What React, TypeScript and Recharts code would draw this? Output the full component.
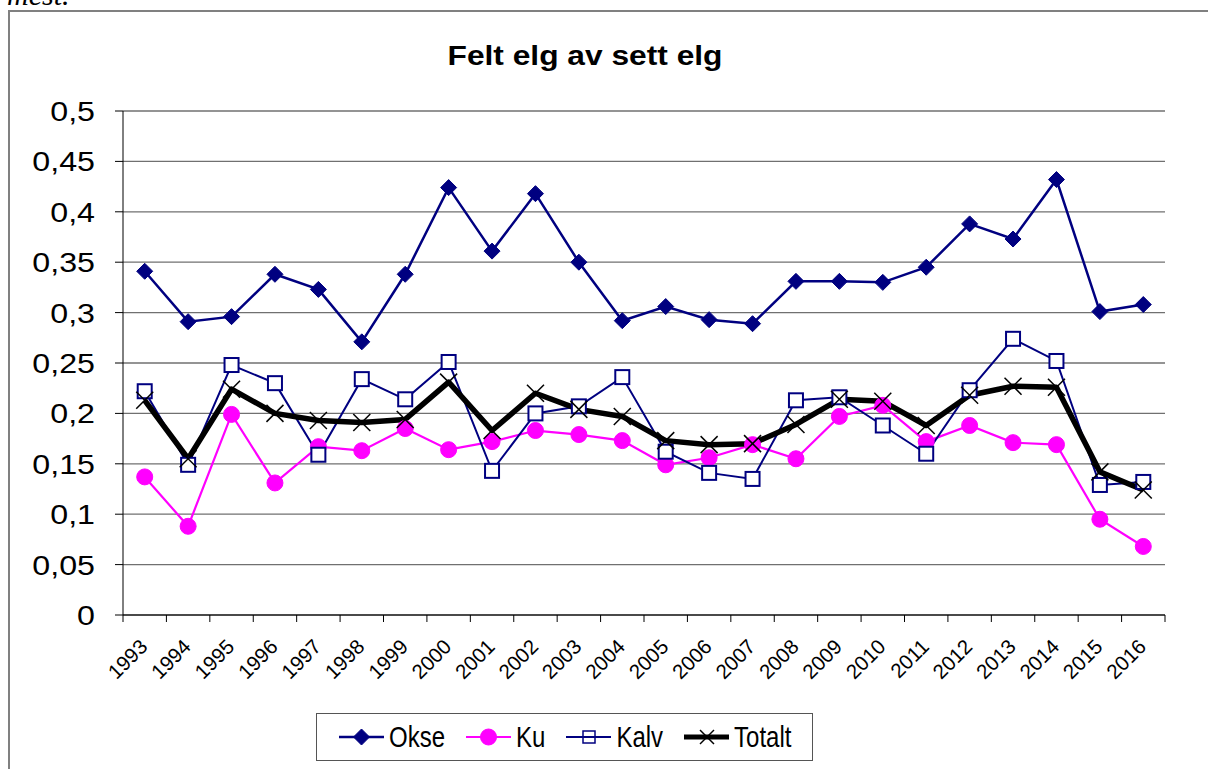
import { LineChart, Line, XAxis, YAxis, CartesianGrid } from "recharts";

const years = [
  "1993", "1994", "1995", "1996", "1997", "1998", "1999", "2000",
  "2001", "2002", "2003", "2004", "2005", "2006", "2007", "2008",
  "2009", "2010", "2011", "2012", "2013", "2014", "2015", "2016",
];
const okse = [
  0.341, 0.291, 0.296, 0.338, 0.323, 0.271, 0.338, 0.424, 0.361, 0.418, 0.35, 0.292,
  0.306, 0.293, 0.289, 0.331, 0.331, 0.33, 0.345, 0.388, 0.373, 0.432, 0.301, 0.308,
];
const ku = [
  0.137, 0.088, 0.199, 0.131, 0.167, 0.163, 0.185, 0.164, 0.172, 0.183, 0.179, 0.173,
  0.149, 0.156, 0.169, 0.155, 0.197, 0.208, 0.172, 0.188, 0.171, 0.169, 0.095, 0.068,
];
const kalv = [
  0.222, 0.149, 0.248, 0.23, 0.159, 0.234, 0.214, 0.251, 0.143, 0.2, 0.207, 0.236,
  0.162, 0.141, 0.135, 0.213, 0.216, 0.188, 0.16, 0.223, 0.274, 0.252, 0.129, 0.132,
];
const totalt = [
  0.213, 0.155, 0.224, 0.2, 0.193, 0.191, 0.194, 0.231, 0.183, 0.22, 0.204, 0.197,
  0.173, 0.169, 0.17, 0.189, 0.214, 0.212, 0.188, 0.218, 0.227, 0.226, 0.142, 0.124,
];
const yTicks = [0, 0.05, 0.1, 0.15, 0.2, 0.25, 0.3, 0.35, 0.4, 0.45, 0.5];
const title = "Felt elg av sett elg";
const seriesNames = ["Okse", "Ku", "Kalv", "Totalt"];

const data = years.map((year, i) => ({
  year,
  Okse: okse[i],
  Ku: ku[i],
  Kalv: kalv[i],
  Totalt: totalt[i],
}));

const FONT = "'Liberation Sans', Arial, sans-serif";
const NAVY = "#000080";
const PINK = "#FF00FF";
const PLOT_W = 1042;
const STEP = PLOT_W / years.length;

function Marker({ kind, cx, cy }: { kind: string; cx: number; cy: number }) {
  if (kind === "Okse") {
    const s = 8;
    return (
      <polygon
        points={`${cx},${cy - s} ${cx + s},${cy} ${cx},${cy + s} ${cx - s},${cy}`}
        fill={NAVY}
        stroke={NAVY}
      />
    );
  }
  if (kind === "Ku") return <circle cx={cx} cy={cy} r={8} fill={PINK} stroke={PINK} />;
  if (kind === "Kalv")
    return <rect x={cx - 7} y={cy - 7} width={14} height={14} fill="#fff" stroke={NAVY} strokeWidth={2} />;
  const s = 8.5;
  return (
    <g stroke="#000" strokeWidth={1.5}>
      <line x1={cx - s} y1={cy - s} x2={cx + s} y2={cy + s} />
      <line x1={cx - s} y1={cy + s} x2={cx + s} y2={cy - s} />
    </g>
  );
}

const dotFor = (kind: string) => (props: any) => {
  const { cx, cy, index } = props;
  if (cx == null || cy == null) return <g key={index} />;
  return (
    <g key={`${kind}-${index}`}>
      <Marker kind={kind} cx={cx} cy={cy} />
    </g>
  );
};

function YearTick(props: any) {
  const { x, y, payload, index } = props;
  const tx = x + 4;
  const ty = y + 33;
  return (
    <g>
      <line x1={x - STEP / 2} x2={x - STEP / 2} y1={y} y2={y + 7} stroke="#000" />
      {index === years.length - 1 && (
        <line x1={x + STEP / 2} x2={x + STEP / 2} y1={y} y2={y + 7} stroke="#000" />
      )}
      <text
        x={tx}
        y={ty}
        textAnchor="end"
        transform={`rotate(-45, ${tx}, ${ty})`}
        fontSize={20.5}
        fontFamily={FONT}
        fill="#000"
      >
        {payload.value}
      </text>
    </g>
  );
}

function ValueTick(props: any) {
  const { x, y, payload } = props;
  return (
    <text
      x={x}
      y={y}
      dy="0.355em"
      textAnchor="end"
      fontSize={28}
      fontFamily={FONT}
      fill="#000"
      transform={`translate(${x},0) scale(1.15,1) translate(${-x},0)`}
    >
      {String(payload.value).replace(".", ",")}
    </text>
  );
}

function LegendIcon({ kind }: { kind: string }) {
  const stroke = kind === "Ku" ? PINK : kind === "Totalt" ? "#000" : NAVY;
  const width = kind === "Totalt" ? 5 : kind === "Okse" ? 2.5 : 2;
  return (
    <svg width={45} height={20} style={{ display: "block" }}>
      <line x1={0} x2={45} y1={10} y2={10} stroke={stroke} strokeWidth={width} />
      {kind === "Kalv" ? (
        <rect x={17} y={4} width={12} height={12} fill="none" stroke={NAVY} strokeWidth={1.5} />
      ) : kind === "Totalt" ? (
        <g stroke="#000" strokeWidth={1.5}>
          <line x1={16} y1={3} x2={30} y2={17} />
          <line x1={16} y1={17} x2={30} y2={3} />
        </g>
      ) : (
        <Marker kind={kind} cx={22.5} cy={10} />
      )}
    </svg>
  );
}

export default function App() {
  return (
    <div
      style={{
        position: "fixed",
        left: 0,
        top: 0,
        width: 1208,
        height: 769,
        overflow: "hidden",
        background: "#fff",
      }}
    >
      <div
        style={{
          position: "absolute",
          left: 8,
          top: 10,
          width: 1400,
          height: 1000,
          border: "2px solid #808080",
        }}
      />
      <svg width={1208} height={769} style={{ position: "absolute", left: 0, top: 0 }}>
        <text x={7} y={5} fontStyle="italic" fontSize={30} fontFamily="'Liberation Serif', serif">
          mest.
        </text>
        <text
          x={585}
          y={65}
          textAnchor="middle"
          fontWeight="bold"
          fontSize={28}
          fontFamily={FONT}
          textLength={275}
          lengthAdjust="spacingAndGlyphs"
        >
          {title}
        </text>
      </svg>
      <div style={{ position: "absolute", left: 0, top: 0 }}>
        <LineChart
          width={1208}
          height={769}
          data={data}
          margin={{ top: 111, right: 43, bottom: 94, left: 13 }}
        >
          <CartesianGrid vertical={false} stroke="#707070" strokeWidth={1.3} />
          <XAxis
            dataKey="year"
            interval={0}
            height={60}
            padding={{ left: STEP / 2, right: STEP / 2 }}
            axisLine={{ stroke: "#000", strokeWidth: 1 }}
            tickLine={false}
            tickSize={0}
            tickMargin={0}
            tick={<YearTick />}
          />
          <YAxis
            width={110}
            domain={[0, 0.5]}
            ticks={yTicks}
            interval={0}
            axisLine={{ stroke: "#000", strokeWidth: 1 }}
            tickLine={{ stroke: "#000" }}
            tickSize={8}
            tickMargin={20}
            tick={<ValueTick />}
          />
          <Line
            dataKey="Okse"
            stroke={NAVY}
            strokeWidth={2.5}
            dot={dotFor("Okse")}
            isAnimationActive={false}
          />
          <Line
            dataKey="Ku"
            stroke={PINK}
            strokeWidth={2.2}
            dot={dotFor("Ku")}
            isAnimationActive={false}
          />
          <Line
            dataKey="Kalv"
            stroke={NAVY}
            strokeWidth={2}
            dot={dotFor("Kalv")}
            isAnimationActive={false}
          />
          <Line
            dataKey="Totalt"
            stroke="#000"
            strokeWidth={5.5}
            strokeLinejoin="round"
            dot={dotFor("Totalt")}
            isAnimationActive={false}
          />
        </LineChart>
      </div>
      <div
        style={{
          position: "absolute",
          left: 316,
          top: 713,
          width: 497,
          height: 48,
          boxSizing: "border-box",
          border: "1.5px solid #555",
          display: "flex",
          alignItems: "center",
          paddingLeft: 22,
          gap: 21,
          fontFamily: FONT,
          fontSize: 24,
        }}
      >
        {seriesNames.map((name) => (
          <div key={name} style={{ display: "flex", alignItems: "center", gap: 5 }}>
            <LegendIcon kind={name} />
            <span style={{ display: "inline-block", transform: "scaleY(1.2)" }}>{name}</span>
          </div>
        ))}
      </div>
    </div>
  );
}
